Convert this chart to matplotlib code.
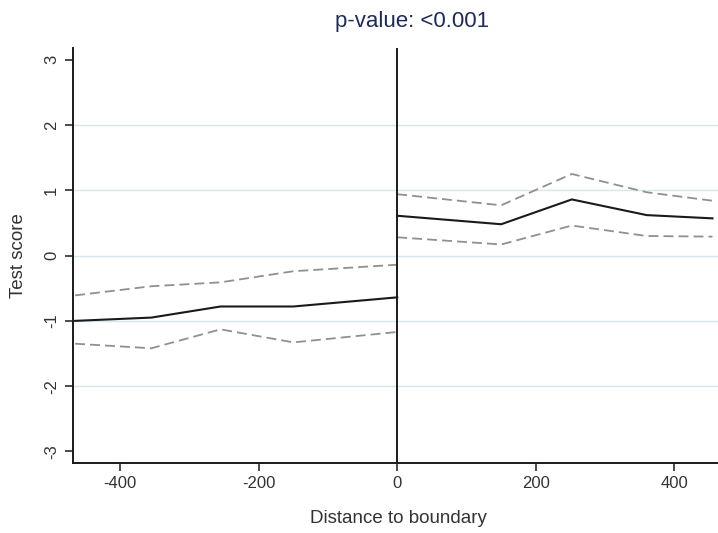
import matplotlib.pyplot as plt

plt.rcParams['font.family'] = ['Liberation Sans', 'DejaVu Sans']
plt.rcParams['axes.unicode_minus'] = False

# left of boundary
x_left = [-465, -355, -255, -150, 0]
est_left = [-1.00, -0.95, -0.78, -0.78, -0.64]
hi_left = [-0.61, -0.47, -0.41, -0.24, -0.14]
lo_left = [-1.35, -1.42, -1.13, -1.33, -1.17]

# right of boundary
x_right = [0, 150, 252, 360, 455]
est_right = [0.61, 0.48, 0.86, 0.62, 0.57]
hi_right = [0.94, 0.77, 1.25, 0.97, 0.84]
lo_right = [0.28, 0.17, 0.46, 0.30, 0.29]

x_ticks = [-400, -200, 0, 200, 400]
y_ticks = [-3, -2, -1, 0, 1, 2, 3]
grid_levels = [-2, -1, 0, 1, 2]

fig = plt.figure(figsize=(7.18, 5.33), dpi=100)
ax = fig.add_axes([0.1017, 0.131, 0.8983, 0.779])

for g in grid_levels:
    ax.axhline(g, color='#d6e8ee', lw=1.0, zorder=0)

# boundary
ax.axvline(0, color='#1a1a1a', lw=1.4, zorder=3)

for xs, est, hi, lo in [(x_left, est_left, hi_left, lo_left),
                        (x_right, est_right, hi_right, lo_right)]:
    ax.plot(xs, hi, color='#909090', lw=1.3, ls=(0, (5.5, 2.8)), zorder=2)
    ax.plot(xs, lo, color='#909090', lw=1.3, ls=(0, (5.5, 2.8)), zorder=2)
    ax.plot(xs, est, color='#1a1a1a', lw=1.5, zorder=2)

ax.set_xlim(-468, 463)
ax.set_ylim(-3.18, 3.18)
ax.set_xticks(x_ticks)
ax.set_yticks(y_ticks)
ax.set_yticklabels([str(v) for v in y_ticks], rotation=90, va='center')
ax.tick_params(direction='out', length=6, width=1.1, color='#1a1a1a',
               labelsize=12, labelcolor='#333333')
ax.tick_params(axis='y', pad=4)
ax.tick_params(axis='x', pad=3)

for side in ['top', 'right']:
    ax.spines[side].set_visible(False)
for side in ['left', 'bottom']:
    ax.spines[side].set_linewidth(1.4)
    ax.spines[side].set_color('#1a1a1a')

ax.set_xlabel('Distance to boundary', fontsize=13.5, color='#333333')
ax.set_ylabel('Test score', fontsize=13.5, color='#333333')
ax.xaxis.label.set_va('center')
ax.yaxis.label.set_va('center')
ax.xaxis.set_label_coords(0.504, -0.1325)
ax.yaxis.set_label_coords(-0.0853, 0.5)

fig.text(412 / 718, 1 - 21 / 533, 'p-value: <0.001', ha='center', va='center',
         fontsize=16, color='#1e2a5c')

fig.savefig('out.png', dpi=100)
